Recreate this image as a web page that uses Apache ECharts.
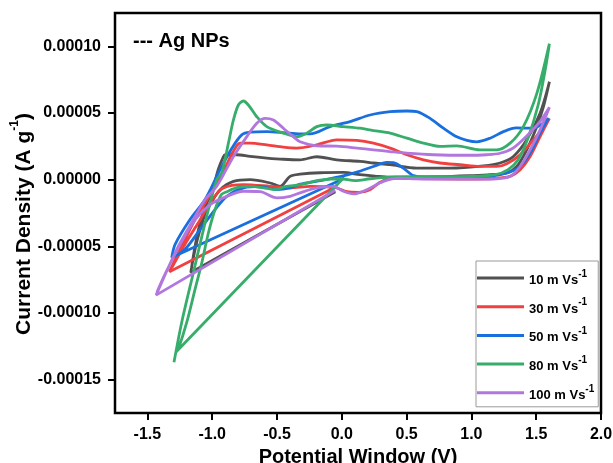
<!DOCTYPE html>
<html>
<head>
<meta charset="utf-8">
<script src="https://cdn.jsdelivr.net/npm/echarts@6/dist/echarts.min.js"></script>
<style>
html,body{margin:0;padding:0;background:#fff;}
#chart{width:613px;height:463px;}
</style>
</head>
<body>
<div id="chart"></div>
<script>
// Series names (scan rates)
const seriesNames = ['10 m Vs-1', '30 m Vs-1', '50 m Vs-1', '80 m Vs-1', '100 m Vs-1'];
const seriesColors = ['#515151', '#F14040', '#1A6FDF', '#37AD6B', '#B177DE'];

// Tick values
const xTicks = [-1.5, -1.0, -0.5, 0.0, 0.5, 1.0, 1.5, 2.0];
const yTicks = [-0.00015, -0.0001, -0.00005, 0, 0.00005, 0.0001];

// CV loops: [potential (V), current density (A g^-1)]
const cv10 = [
  [-0.05,-0.9e-5],[-1.165,-6.96e-5],[-1.132,-4.98e-5],[-1.093,-3.23e-5],[-1.042,-1.74e-5],[-1.003,-0.99e-5],[-0.954,0.75e-5],[-0.915,1.7e-5],[-0.9,1.87e-5],
  [-0.81,1.87e-5],[-0.708,1.74e-5],[-0.579,1.62e-5],[-0.451,1.53e-5],[-0.322,1.49e-5],[-0.193,1.72e-5],[-0.039,1.49e-5],[0.141,1.37e-5],[0.244,1.25e-5],[0.373,1.12e-5],[0.579,0.87e-5],[0.836,0.87e-5],[1.093,1.04e-5],[1.221,1.25e-5],[1.324,1.74e-5],[1.427,2.99e-5],[1.53,4.98e-5],[1.602,7.34e-5],
  [1.556,5.47e-5],[1.505,3.98e-5],[1.427,2.24e-5],[1.35,0.99e-5],[1.273,0.5e-5],[1.144,0.37e-5],[0.99,0.3e-5],[0.758,0.22e-5],[0.527,0.19e-5],[0.373,0.19e-5],[0.27,0.25e-5],[0.141,0.37e-5],[0.012,0.54e-5],[-0.167,0.52e-5],[-0.322,0.41e-5],[-0.399,0.25e-5],[-0.476,-0.5e-5],[-0.553,-0.25e-5],[-0.708,0],[-0.836,-0.13e-5],[-0.939,-0.75e-5],[-1.0,-1.6e-5],[-1.055,-2.6e-5],[-1.117,-4.6e-5],[-1.16,-6.6e-5]
];
const cv30 = [
  [-0.06,-0.6e-5],[-1.33,-6.9e-5],[-1.248,-5.22e-5],[-1.132,-2.99e-5],[-1.016,-1.12e-5],[-0.9,0.9e-5],[-0.839,2.09e-5],[-0.785,2.74e-5],
  [-0.708,2.74e-5],[-0.579,2.61e-5],[-0.451,2.44e-5],[-0.347,2.37e-5],[-0.193,2.61e-5],[-0.039,2.99e-5],[0.116,2.95e-5],[0.244,2.74e-5],[0.373,2.37e-5],[0.502,1.87e-5],[0.63,1.49e-5],[0.758,1.25e-5],[0.913,1.12e-5],[1.067,0.99e-5],[1.196,0.99e-5],[1.273,1.19e-5],[1.376,1.87e-5],[1.478,2.99e-5],[1.556,3.88e-5],[1.602,4.6e-5],
  [1.53,3.23e-5],[1.453,1.74e-5],[1.376,0.75e-5],[1.299,0.25e-5],[1.221,0.13e-5],[1.144,0.07e-5],[0.9,0.05e-5],[0.6,0.08e-5],[0.45,0.1e-5],[0.373,0.1e-5],[0.295,-0.2e-5],[0.218,-0.75e-5],[0.13,-0.95e-5],[0.04,-0.9e-5],[-0.05,-0.6e-5],[-0.245,-0.5e-5],[-0.399,-0.62e-5],[-0.553,-0.5e-5],[-0.759,-0.37e-5],[-0.914,-0.62e-5],[-1.0,-1.5e-5],[-1.093,-3.0e-5],[-1.21,-4.85e-5],[-1.31,-6.57e-5]
];
const cv50 = [
  [0.02,0.1e-5],[-1.312,-5.84e-5],[-1.286,-4.85e-5],[-1.171,-2.99e-5],[-1.055,-1.49e-5],[-0.939,0.75e-5],[-0.846,2.39e-5],[-0.772,3.36e-5],
  [-0.708,3.56e-5],[-0.579,3.6e-5],[-0.451,3.53e-5],[-0.322,3.43e-5],[-0.245,3.43e-5],[-0.09,3.98e-5],[0.064,4.35e-5],[0.218,4.85e-5],[0.373,5.1e-5],[0.502,5.15e-5],[0.579,5.1e-5],[0.681,4.6e-5],[0.784,3.86e-5],[0.887,3.21e-5],[0.965,2.95e-5],[1.042,2.84e-5],[1.144,3.11e-5],[1.247,3.6e-5],[1.345,3.88e-5],[1.478,3.86e-5],[1.545,4.18e-5],[1.594,4.6e-5],
  [1.53,3.49e-5],[1.453,1.99e-5],[1.376,0.99e-5],[1.273,0.5e-5],[1.144,0.25e-5],[0.913,0.19e-5],[0.681,0.15e-5],[0.553,0.3e-5],[0.475,0.87e-5],[0.398,1.27e-5],[0.347,1.29e-5],[0.244,0.99e-5],[0.116,0.56e-5],[-0.013,0.22e-5],[-0.167,-0.07e-5],[-0.322,-0.34e-5],[-0.399,-0.62e-5],[-0.502,-0.75e-5],[-0.63,-0.5e-5],[-0.759,-0.62e-5],[-0.887,-1.25e-5],[-0.978,-2.24e-5],[-1.093,-3.73e-5],[-1.209,-5.22e-5],[-1.302,-5.82e-5]
];
const cv80 = [
  [-1.295,-13.7e-5],[-1.235,-10.69e-5],[-1.145,-6.96e-5],[-1.042,-2.74e-5],[-0.965,0],[-0.926,0.5e-5],[-0.875,2.74e-5],[-0.836,4.48e-5],[-0.798,5.6e-5],[-0.759,5.9e-5],[-0.721,5.6e-5],[-0.656,4.72e-5],[-0.579,3.98e-5],[-0.451,3.49e-5],[-0.347,3.23e-5],[-0.27,3.49e-5],[-0.193,3.98e-5],[-0.116,4.1e-5],[0.012,3.98e-5],[0.141,3.86e-5],[0.244,3.68e-5],[0.373,3.49e-5],[0.502,3.11e-5],[0.63,2.74e-5],[0.758,2.49e-5],[0.887,2.54e-5],[1.067,2.24e-5],[1.196,2.24e-5],[1.299,2.74e-5],[1.401,3.98e-5],[1.505,6.47e-5],[1.602,10.2e-5],
  [1.569,8.21e-5],[1.515,5.6e-5],[1.437,3.13e-5],[1.36,1.49e-5],[1.283,0.75e-5],[1.183,0.37e-5],[0.913,0.22e-5],[0.604,0.22e-5],[0.373,0.19e-5],[0.218,0.07e-5],[0.103,-0.07e-5],[-0.013,0.07e-5],[-0.167,-0.04e-5],[-0.322,-0.37e-5],[-0.437,-0.52e-5],[-0.515,-0.75e-5],[-0.592,-0.63e-5],[-0.708,-0.5e-5],[-0.81,-0.6e-5],[-0.887,-0.9e-5],[-0.929,-1.12e-5],[-0.978,-2.24e-5],[-1.029,-3.98e-5],[-1.08,-6.22e-5],[-1.132,-8.21e-5],[-1.196,-10.69e-5],[-1.261,-12.69e-5],[-1.279,-12.93e-5],[0.0,0.0]
];
const cv100 = [
  [-0.05,-0.8e-5],[-1.433,-8.66e-5],[-1.273,-5.22e-5],[-1.145,-2.99e-5],[-1.055,-1.49e-5],[-0.965,-0.5e-5],[-0.836,1.74e-5],[-0.733,3.23e-5],[-0.656,4.23e-5],[-0.592,4.6e-5],[-0.528,4.48e-5],[-0.451,3.86e-5],[-0.373,3.21e-5],[-0.322,2.84e-5],[-0.193,2.54e-5],[-0.039,2.51e-5],[0.116,2.37e-5],[0.244,2.24e-5],[0.373,2.11e-5],[0.502,1.99e-5],[0.707,1.87e-5],[0.965,1.83e-5],[1.119,1.87e-5],[1.221,1.98e-5],[1.324,2.39e-5],[1.427,3.28e-5],[1.53,4.37e-5],[1.602,5.43e-5],
  [1.53,3.73e-5],[1.453,2.24e-5],[1.376,0.99e-5],[1.299,0.25e-5],[1.196,0.07e-5],[1.015,0.04e-5],[0.758,0.04e-5],[0.566,0.07e-5],[0.45,0.11e-5],[0.321,-0.13e-5],[0.193,-0.75e-5],[0.09,-1.07e-5],[0.012,-0.87e-5],[-0.065,-0.5e-5],[-0.193,-0.62e-5],[-0.322,-0.99e-5],[-0.399,-1.25e-5],[-0.502,-1.37e-5],[-0.63,-0.9e-5],[-0.759,-0.87e-5],[-0.887,-1.25e-5],[-1.016,-1.87e-5],[-1.132,-2.99e-5],[-1.248,-4.85e-5],[-1.364,-7.09e-5],[-1.426,-8.43e-5]
];
const seriesData = [cv10, cv30, cv50, cv80, cv100];

const FONT = '"Liberation Sans", Arial, sans-serif';
const chart = echarts.init(document.getElementById('chart'), null, {renderer: 'canvas'});

chart.setOption({
  animation: false,
  backgroundColor: '#fff',
  title: {
    text: '--- Ag NPs',
    left: 128, top: 26,
    textStyle: {fontFamily: FONT, fontSize: 20, fontWeight: 'bold', color: '#000'}
  },
  grid: {
    left: 115, right: 12, top: 13, bottom: 50,
    outerBoundsMode: 'none', containLabel: false,
    show: true, borderColor: '#000', borderWidth: 2.5, backgroundColor: 'transparent'
  },
  legend: {
    orient: 'vertical',
    left: 476, top: 261,
    data: seriesNames,
    icon: 'rect',
    itemWidth: 47, itemHeight: 3,
    itemGap: 10.7,
    padding: [8, 4, 5, 1],
    borderColor: '#9a9a9a', borderWidth: 1,
    formatter: n => '{a|' + n.slice(0, -2) + '}{s|-1}',
    textStyle: {
      fontFamily: FONT, color: '#000',
      rich: {
        a: {fontFamily: FONT, fontSize: 13, fontWeight: 'bold', color: '#000', lineHeight: 18, verticalAlign: 'bottom'},
        s: {fontFamily: FONT, fontSize: 10, fontWeight: 'bold', color: '#000', lineHeight: 10, verticalAlign: 'top'}
      }
    }
  },
  xAxis: {
    type: 'value', min: -1.75, max: 2.0,
    name: 'Potential Window (V)', nameLocation: 'middle', nameGap: 34,
    nameMoveOverlap: false,
    nameTextStyle: {fontFamily: FONT, fontSize: 20, fontWeight: 'bold', color: '#000'},
    axisLine: {show: false, onZero: false},
    axisTick: {show: true, inside: false, length: 7, lineStyle: {color: '#000', width: 2}, customValues: xTicks},
    axisLabel: {fontFamily: FONT, fontSize: 16, fontWeight: 'bold', color: '#000', margin: 14, customValues: xTicks,
      formatter: v => v.toFixed(1)},
    splitLine: {show: false}
  },
  yAxis: {
    type: 'value', min: -0.000175, max: 0.000125,
    name: '{a|Current Density (A g}{s|-1}{a|)}', nameLocation: 'middle', nameGap: 80,
    nameMoveOverlap: false,
    nameTextStyle: {
      fontFamily: FONT, color: '#000',
      padding: [0, 22, 0, 0],
      rich: {
        a: {fontFamily: FONT, fontSize: 21, fontWeight: 'bold', color: '#000', lineHeight: 26, verticalAlign: 'bottom'},
        s: {fontFamily: FONT, fontSize: 12, fontWeight: 'bold', color: '#000', lineHeight: 12, verticalAlign: 'top'}
      }
    },
    axisLine: {show: false, onZero: false},
    axisTick: {show: true, inside: false, length: 7, lineStyle: {color: '#000', width: 2}, customValues: yTicks},
    axisLabel: {fontFamily: FONT, fontSize: 16, fontWeight: 'bold', color: '#000', margin: 14, customValues: yTicks,
      formatter: v => v.toFixed(5)},
    splitLine: {show: false}
  },
  series: seriesNames.map((name, i) => ({
    name: name,
    type: 'line',
    data: seriesData[i],
    showSymbol: false,
    smooth: 0.3,
    color: seriesColors[i],
    lineStyle: {color: seriesColors[i], width: 2.8},
    z: 2 + i
  }))
});
</script>
</body>
</html>
